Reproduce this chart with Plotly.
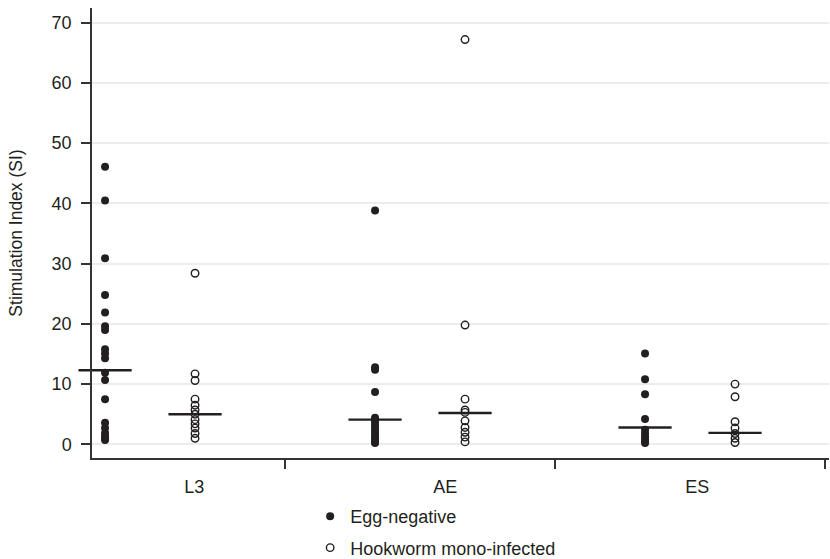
import plotly.graph_objects as go

# ---- data ----
categories = ["L3", "AE", "ES"]
group_names = ["Egg-negative", "Hookworm mono-infected"]

l3_egg_negative = [46.1, 40.5, 30.9, 24.8, 21.9, 19.6, 19.0, 15.8, 15.1, 14.3, 11.9, 10.7, 7.5, 3.6, 2.7, 1.9, 1.4, 1.0, 0.7]
l3_hookworm = [28.4, 11.7, 10.6, 7.5, 6.5, 5.7, 5.0, 4.1, 3.4, 2.7, 1.8, 1.0]
ae_egg_negative = [38.8, 12.8, 12.4, 8.7, 4.4, 4.0, 3.6, 3.1, 2.6, 2.1, 1.6, 1.2, 0.8, 0.4, 0.2]
ae_hookworm = [67.2, 19.8, 7.5, 5.7, 5.3, 3.9, 2.8, 2.0, 1.2, 0.4]
es_egg_negative = [15.1, 10.8, 8.3, 4.2, 2.4, 1.8, 1.3, 0.9, 0.5, 0.2]
es_hookworm = [10.0, 7.9, 3.75, 2.7, 1.8, 1.0, 0.3]

median_egg_negative = [12.3, 4.1, 2.8]
median_hookworm = [5.0, 5.2, 1.9]

y_ticks = [0, 10, 20, 30, 40, 50, 60, 70]

# ---- layout helpers (positions) ----
egg_x = [0, 3, 6]
hook_x = [1, 4, 7]
label_x = [0.99, 3.78, 6.58]
boundary_x = [2, 5, 8]

INK = "#231f20"
FONT = "Liberation Sans, Arial, Helvetica, sans-serif"

egg_series = [l3_egg_negative, ae_egg_negative, es_egg_negative]
hook_series = [l3_hookworm, ae_hookworm, es_hookworm]

fig = go.Figure()

ex, ey = [], []
for xpos, vals in zip(egg_x, egg_series):
    ex += [xpos] * len(vals)
    ey += vals
hx, hy = [], []
for xpos, vals in zip(hook_x, hook_series):
    hx += [xpos] * len(vals)
    hy += vals

fig.add_trace(go.Scatter(
    x=ex, y=ey, mode="markers", name=group_names[0], legendgroup="a",
    marker=dict(symbol="circle", size=8, color=INK, line=dict(width=0)),
    cliponaxis=False,
))
fig.add_trace(go.Scatter(
    x=hx, y=hy, mode="markers", name=group_names[1], legendgroup="b",
    marker=dict(symbol="circle-open", size=7.5, color=INK, line=dict(width=1.4)),
    cliponaxis=False,
))

# medians
fig.add_trace(go.Scatter(
    x=egg_x + hook_x, y=median_egg_negative + median_hookworm, mode="markers",
    showlegend=False, hoverinfo="skip",
    marker=dict(symbol="line-ew", size=38, color=INK, line=dict(width=2.4, color=INK)),
    cliponaxis=False,
))

fig.update_layout(
    width=830, height=559,
    margin=dict(l=92, r=1, t=8, b=101, autoexpand=False),
    paper_bgcolor="white", plot_bgcolor="white",
    font=dict(family=FONT, size=18, color=INK),
    showlegend=True,
    legend=dict(
        x=0.296, y=-0.089, xanchor="left", yanchor="top",
        font=dict(size=18, color=INK), tracegroupgap=5,
        bgcolor="rgba(0,0,0,0)",
    ),
    xaxis=dict(
        range=[-0.145, 8.044], showgrid=False, zeroline=False, automargin=False,
        showline=True, linecolor="#333333", linewidth=1.5,
        tickmode="array", tickvals=label_x, ticktext=categories,
        ticks="outside", ticklen=9, tickcolor="rgba(0,0,0,0)",
        ticklabelstandoff=3,
        tickfont=dict(size=18, color=INK),
        minor=dict(tickmode="array", tickvals=boundary_x, ticks="outside",
                   ticklen=9, tickwidth=1.5, tickcolor="#333333", showgrid=False),
    ),
    yaxis=dict(
        range=[-2.27, 72.44], zeroline=False, automargin=False,
        showgrid=True, gridcolor="#ececec", gridwidth=1.5,
        showline=True, linecolor="#333333", linewidth=1.5,
        tickmode="array", tickvals=y_ticks,
        ticks="outside", ticklen=9, tickwidth=1.5, tickcolor="#333333",
        ticklabelstandoff=6,
        tickfont=dict(size=18, color=INK),
        title=dict(text="Stimulation Index (SI)", font=dict(size=17.5, color=INK), standoff=24),
    ),
)

fig.write_html("out.html", config={"displayModeBar": False},
               post_script="document.body.style.margin='0';")
